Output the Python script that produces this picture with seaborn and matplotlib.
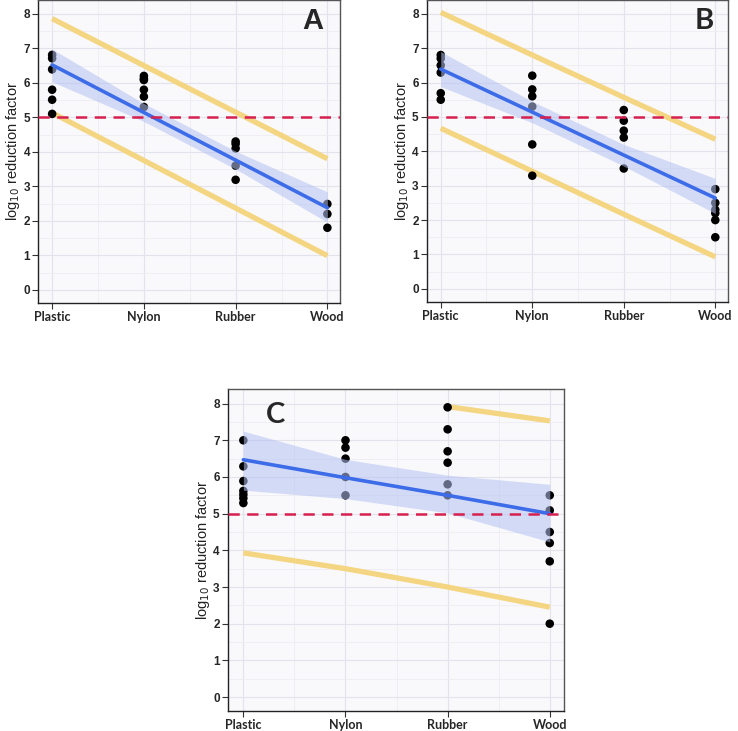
import numpy as np
import pandas as pd
import matplotlib
matplotlib.use("Agg")
import matplotlib.pyplot as plt
from matplotlib.ticker import MultipleLocator
import seaborn as sns

# materials on the x axis
categories = ["Plastic", "Nylon", "Rubber", "Wood"]

a_obs = {
    "Plastic": [6.81, 6.71, 6.39, 5.8, 5.51, 5.1],
    "Nylon": [6.2, 6.12, 6.08, 5.8, 5.6, 5.3],
    "Rubber": [4.3, 4.23, 4.1, 3.6, 3.19],
    "Wood": [2.49, 2.2, 1.8],
}
b_obs = {
    "Plastic": [6.8, 6.7, 6.5, 6.29, 5.69, 5.5],
    "Nylon": [6.2, 5.8, 5.6, 5.3, 4.2, 3.29],
    "Rubber": [5.2, 4.89, 4.6, 4.4, 3.5],
    "Wood": [2.9, 2.5, 2.3, 2.2, 2.0, 1.5],
}
c_obs = {
    "Plastic": [7.0, 6.29, 5.89, 5.62, 5.52, 5.42, 5.29],
    "Nylon": [7.0, 6.8, 6.5, 6.0, 5.5],
    "Rubber": [7.9, 7.3, 6.7, 6.39, 5.8, 5.5],
    "Wood": [5.5, 5.09, 4.5, 4.2, 3.7, 2.0],
}

# fitted line, confidence band, prediction limits at each material
a_fit = [6.52, 5.14, 3.76, 2.38]
a_ci_lo = [6.03, 4.88, 3.5, 1.96]
a_ci_hi = [6.98, 5.4, 4.02, 2.84]
a_pi_lo = [5.13, 3.75, 2.37, 0.99]
a_pi_hi = [7.86, 6.5, 5.15, 3.8]

b_fit = [6.39, 5.14, 3.89, 2.64]
b_ci_lo = [5.88, 4.83, 3.57, 2.19]
b_ci_hi = [6.9, 5.45, 4.2, 3.21]
b_pi_lo = [4.67, 3.42, 2.17, 0.93]
b_pi_hi = [8.04, 6.8, 5.57, 4.35]

c_fit = [6.47, 5.98, 5.5, 5.0]
c_ci_lo = [5.64, 5.41, 5.02, 4.23]
c_ci_hi = [7.25, 6.48, 6.05, 5.8]
c_pi_lo = [3.93, 3.5, 3.0, 2.45]
c_pi_hi = [np.nan, np.nan, 7.92, 7.53]

threshold = 5

sns.set_theme(style="white")
plt.rcParams["font.family"] = ["Liberation Sans", "DejaVu Sans"]

YELLOW = "#F4D581"
BLUE = "#3D6CE8"
BAND = "#B4C2F2"
RED = "#D6204F"


def draw_panel(ax, obs, fit, ci_lo, ci_hi, pi_lo, pi_hi, letter, letter_pos, letter_font):
    pos = np.arange(len(categories))
    ax.set_facecolor("#F9F9FC")

    # grid
    ax.xaxis.set_minor_locator(MultipleLocator(0.5))
    ax.yaxis.set_minor_locator(MultipleLocator(0.5))
    ax.grid(which="major", color="#E3E3EC", lw=0.8, zorder=0)
    ax.grid(which="minor", color="#EDEDF3", lw=0.6, zorder=0)
    ax.set_axisbelow(True)

    # prediction limits
    pi = pd.DataFrame({"x": np.concatenate([pos, pos]),
                       "y": np.concatenate([pi_lo, pi_hi]),
                       "lim": ["lo"] * 4 + ["hi"] * 4}).dropna()
    for lim, g in pi.groupby("lim"):
        sns.lineplot(data=g, x="x", y="y", ax=ax, color=YELLOW, lw=3.8,
                     solid_capstyle="butt", zorder=2)

    # observations
    pts = pd.DataFrame([(categories.index(k), v) for k, vals in obs.items() for v in vals],
                       columns=["x", "y"])
    sns.scatterplot(data=pts, x="x", y="y", ax=ax, color="black", s=38,
                    edgecolor="none", zorder=3)

    # confidence band and fit
    ax.fill_between(pos, ci_lo, ci_hi, color=BAND, alpha=0.55, lw=0, zorder=4)
    sns.lineplot(x=pos, y=fit, ax=ax, color=BLUE, lw=2.6, zorder=5)

    ax.axhline(threshold, color=RED, lw=1.8, ls=(0, (4.5, 3)), zorder=6)

    ax.set_xlim(-0.15, 3.14)
    ax.set_ylim(-0.38, 8.4)
    ax.set_xticks(pos)
    ax.set_xticklabels(categories, fontfamily="Lato", fontweight="bold", fontsize=9)
    ax.set_yticks(range(0, 9))
    ax.set_yticklabels([str(i) for i in range(0, 9)], fontweight="bold", fontsize=8.5)
    ax.tick_params(axis="both", which="major", length=4, width=0.8, color="#333333",
                   bottom=True, left=True, pad=2)
    ax.tick_params(which="minor", length=0)
    ax.set_xlabel("")
    ax.set_ylabel(r"log$_{10}$ reduction factor", fontsize=10.5, color="#222222", labelpad=1)
    for sp in ax.spines.values():
        sp.set_color("#555555")
        sp.set_linewidth(1.0)
    ax.spines["left"].set_color("#222222")
    ax.spines["bottom"].set_color("#222222")

    ax.text(letter_pos[0], letter_pos[1], letter, transform=ax.transAxes,
            fontsize=letter_font[0], fontweight="bold", fontfamily=letter_font[1],
            ha="center", va="center")


fig = plt.figure(figsize=(7.38, 7.31), dpi=100)
ax_a = fig.add_axes([0.052, 0.5855, 0.409, 0.4145])
ax_b = fig.add_axes([0.5786, 0.587, 0.408, 0.413])
ax_c = fig.add_axes([0.309, 0.0274, 0.4553, 0.4405])

draw_panel(ax_a, a_obs, a_fit, a_ci_lo, a_ci_hi, a_pi_lo, a_pi_hi,
           "A", (0.91, 0.93), (21, "Liberation Sans"))
draw_panel(ax_b, b_obs, b_fit, b_ci_lo, b_ci_hi, b_pi_lo, b_pi_hi,
           "B", (0.92, 0.93), (21, "Lato"))
draw_panel(ax_c, c_obs, c_fit, c_ci_lo, c_ci_hi, c_pi_lo, c_pi_hi,
           "C", (0.14, 0.92), (21, "Lato"))

fig.savefig("out.png", dpi=100)
